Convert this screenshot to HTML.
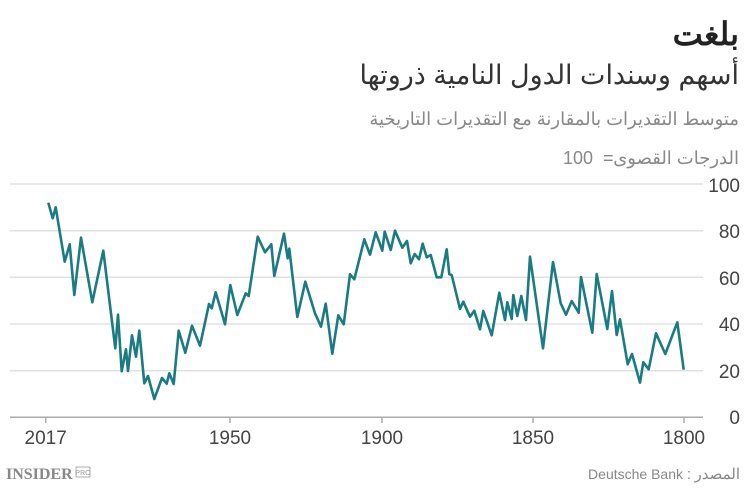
<!DOCTYPE html>
<html><head><meta charset="utf-8"><style>
body{margin:0;width:750px;height:491px;background:#fff;overflow:hidden;font-family:"Liberation Sans","Noto Sans CJK SC",sans-serif;}
</style></head><body>
<svg width="750" height="491" xmlns="http://www.w3.org/2000/svg" font-family="Liberation Sans, Noto Sans CJK SC, sans-serif">
<text x="739" y="45" text-anchor="end" font-size="32" font-weight="bold" fill="#222">بلغت</text>
<text x="739" y="84" text-anchor="end" font-size="27" fill="#333">أسهم وسندات الدول النامية ذروتها</text>
<text x="739" y="125" text-anchor="end" font-size="18" fill="#888">متوسط التقديرات بالمقارنة مع التقديرات التاريخية</text>
<text x="739" y="164" text-anchor="end" font-size="18" fill="#888">الدرجات القصوى</text>
<text x="563" y="164" text-anchor="start" font-size="18" fill="#888">100</text>
<text x="603" y="164" text-anchor="start" font-size="18" fill="#888">=</text>
<g stroke="#e2e2e2" stroke-width="1.5">
<line x1="10" x2="703" y1="184" y2="184"/><line x1="10" x2="703" y1="230.7" y2="230.7"/>
<line x1="10" x2="703" y1="277.3" y2="277.3"/><line x1="10" x2="703" y1="324" y2="324"/>
<line x1="10" x2="703" y1="370.7" y2="370.7"/>
</g>
<line x1="10" x2="703" y1="417.3" y2="417.3" stroke="#aaa" stroke-width="1.5"/>
<g stroke="#aaa" stroke-width="1.5">
<line x1="45.7" x2="45.7" y1="417" y2="423"/><line x1="230" x2="230" y1="417" y2="423"/>
<line x1="382" x2="382" y1="417" y2="423"/><line x1="533" x2="533" y1="417" y2="423"/>
<line x1="684" x2="684" y1="417" y2="423"/>
</g>
<g font-size="19" fill="#444" text-anchor="end">
<text x="740" y="192">100</text><text x="740" y="238">80</text><text x="740" y="285">60</text>
<text x="740" y="331">40</text><text x="740" y="378">20</text><text x="740" y="424">0</text>
</g>
<g font-size="19" fill="#444" text-anchor="middle">
<text x="45.7" y="444">2017</text><text x="230" y="444">1950</text><text x="382" y="444">1900</text>
<text x="533" y="444">1850</text><text x="684" y="444">1800</text>
</g>
<polyline fill="none" stroke="#1a7b82" stroke-width="2.6" stroke-linejoin="round" points="48.3,202.7 52.7,218.3 55.7,207.3 64.7,261.7 69.7,244.3 74.3,295 81,237.7 92.3,302.3 103.3,250.7 115.3,348.3 118,314.7 121.7,371.3 126,349.3 128,371 132,335.3 136,356.7 139.3,330.7 144.3,383.3 148,376 154.3,399 162,378 166.7,383.7 169.3,373.3 173.7,384 178.7,330.7 185.3,352.7 192,325.7 200,345.7 209,304 211.7,308.3 215.7,292.3 225,324.3 230.3,285 237.3,315 245.7,293.3 248.7,296 257.7,236.7 265,252.3 271.3,244.3 274.3,276 284,233.7 287.7,258.3 289.3,248.7 297.3,317 305.3,281.7 315,313.3 321,326.7 325.7,303.7 332.3,353.7 338.3,315.3 343.7,324.3 350,274.3 354.3,279.3 364.3,239.3 370,254.7 375.7,232.3 382.3,250.7 384.7,231.7 390.7,250 395,230.7 402.3,247.7 407,241 410.7,263.3 414.7,254 419,259.3 422.7,243.7 426.7,257.3 430.7,255 436.7,277.3 441.3,277.3 446.7,249.3 449.3,274.3 451.7,275 460,309 463.3,301.7 470,316.7 474.3,310.7 480,329.3 483.3,311 491.7,335.3 499.3,292.7 505,320 507.3,302.3 511.7,319 513.3,295 517.3,316 521.3,296 526,320 530,256.7 543,348.3 553,262 560.7,303.3 566,314.7 571.7,301 578.7,312.7 581,277 592.3,332.7 596.7,274 607.3,329 612,291 616.7,335 620,319.3 627.7,364.3 632,354 640,382.7 643.3,362.3 648.7,369.3 656,333.3 665.3,354 677.3,322.3 683.7,369.7"/>
<text x="6" y="479" font-family="Liberation Serif, serif" font-size="16" font-weight="bold" fill="#888">INSIDER</text>
<rect x="76" y="467" width="14" height="10" fill="none" stroke="#999" stroke-width="0.8"/>
<text x="83" y="475" font-size="7" fill="#999" text-anchor="middle">PRO</text>
<text x="740" y="479" text-anchor="end" font-size="15" fill="#888">المصدر</text>
<text x="691" y="479" text-anchor="end" font-size="15" fill="#888">:</text>
<text x="683" y="479" text-anchor="end" font-size="14" fill="#888">Deutsche Bank</text>
</svg>
</body></html>
